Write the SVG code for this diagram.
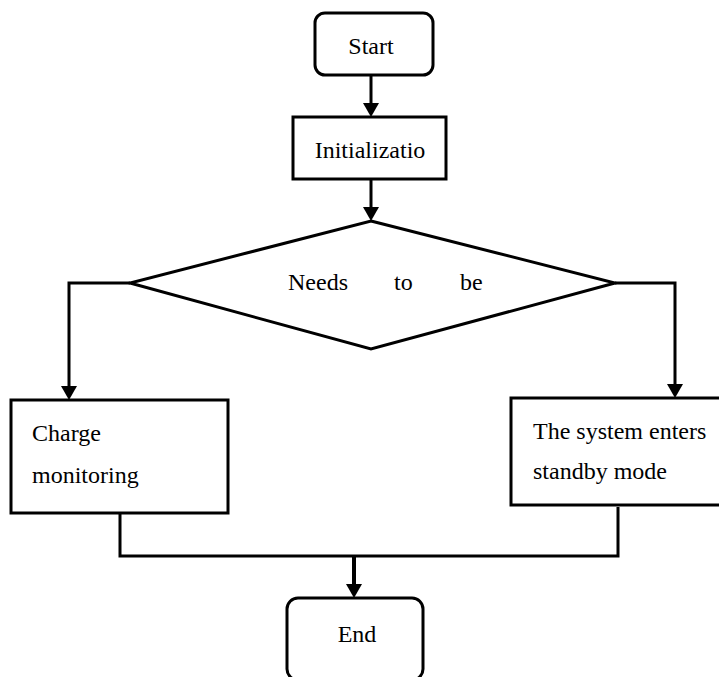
<svg xmlns="http://www.w3.org/2000/svg" width="719" height="677" viewBox="0 0 719 677">
<style>
.box{fill:#fff;stroke:#000;stroke-width:3}
.ln{fill:none;stroke:#000;stroke-width:3}
.t{font-family:"Liberation Serif","Times New Roman",serif;font-size:24px;fill:#000}
.c{text-anchor:middle}
</style>
<defs>
<marker id="ah" markerUnits="userSpaceOnUse" markerWidth="14" markerHeight="16" viewBox="0 0 14 16" refX="10" refY="8" orient="auto">
<path d="M0,0 L14,8 L0,16 z" fill="#000"/>
</marker>
</defs>
<rect width="719" height="677" fill="#fff"/>
<g id="connectors">
<path class="ln" d="M371,75 V113" marker-end="url(#ah)"/>
<path class="ln" d="M371,179 V217" marker-end="url(#ah)"/>
<path class="ln" d="M130,283 H69 V396" marker-end="url(#ah)"/>
<path class="ln" d="M615,283 H675 V394" marker-end="url(#ah)"/>
<path class="ln" d="M120,513 V556 H618 V507"/>
<path class="ln" d="M354,556 V594" style="stroke-width:4" marker-end="url(#ah)"/>
</g>
<g id="start">
<rect class="box" x="315" y="13" width="118" height="62" rx="10"/>
<text class="t c" x="371" y="54">Start</text>
</g>
<g id="init">
<rect class="box" x="293" y="117" width="153" height="62"/>
<text class="t c" x="370" y="158">Initializatio</text>
</g>
<g id="decision">
<polygon class="box" points="371,221 615,283 371,349 130,283"/>
<text class="t" y="290"><tspan x="288">Needs</tspan><tspan x="394">to</tspan><tspan x="460">be</tspan></text>
</g>
<g id="charge">
<rect class="box" x="11" y="400" width="217" height="113"/>
<text class="t" x="32" y="441">Charge</text>
<text class="t" x="32" y="483">monitoring</text>
</g>
<g id="standby">
<rect class="box" x="511" y="398" width="212" height="107"/>
<text class="t" x="533" y="439">The system enters</text>
<text class="t" x="533" y="479">standby mode</text>
</g>
<g id="end">
<rect class="box" x="287" y="598" width="136" height="82" rx="11"/>
<text class="t c" x="357" y="642">End</text>
</g>
</svg>
